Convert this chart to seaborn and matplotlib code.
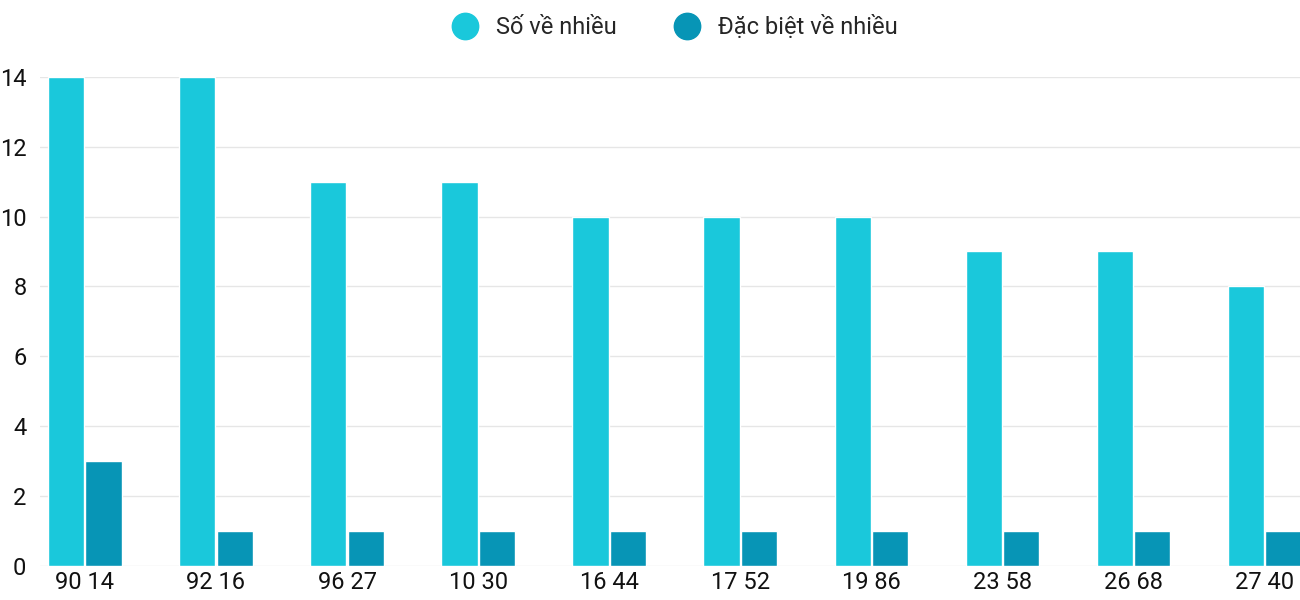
import pandas as pd
import matplotlib.pyplot as plt
import seaborn as sns
from matplotlib.lines import Line2D

labels = ['90 14', '92 16', '96 27', '10 30', '16 44', '17 52', '19 86', '23 58', '26 68', '27 40']
so_ve_nhieu = [14, 14, 11, 11, 10, 10, 10, 9, 9, 8]
dac_biet = [3, 1, 1, 1, 1, 1, 1, 1, 1, 1]
series = ['Số về nhiều', 'Đặc biệt về nhiều']
colors = ['#1AC8DB', '#0795B6']

df = pd.DataFrame({
    'label': labels * 2,
    'value': so_ve_nhieu + dac_biet,
    'series': [series[0]] * len(labels) + [series[1]] * len(labels),
})

sns.set_style('white')
plt.rcParams['font.family'] = ['Roboto', 'DejaVu Sans']

fig = plt.figure(figsize=(13, 6), dpi=100)
ax = fig.add_axes([0.031, 0.057, 0.969, 0.815])
sns.barplot(data=df, x='label', y='value', hue='series', palette=colors,
            saturation=1, width=0.57, gap=0.03, ax=ax, legend=False, zorder=3)

ax.set_ylim(0, 14)
ax.set_xlim(-0.34, 9.27)
ax.set_yticks(range(0, 15, 2))
ax.grid(axis='y', color='#e6e6e6', linewidth=1, zorder=0)
ax.set_xlabel('')
ax.set_ylabel('')
for s in ax.spines.values():
    s.set_visible(False)
ax.tick_params(axis='both', length=0, labelsize=17, colors='#111111')
ax.tick_params(axis='y', pad=10)
ax.tick_params(axis='x', pad=4)

handles = [Line2D([], [], marker='o', linestyle='', markersize=19,
                  markerfacecolor=c, markeredgecolor=c) for c in colors]
fig.legend(handles, series, loc='upper center', bbox_to_anchor=(0.515, 1.01),
           ncol=2, frameon=False, fontsize=17, handletextpad=0.3, columnspacing=2.0)

fig.savefig('out.png', dpi=100)
